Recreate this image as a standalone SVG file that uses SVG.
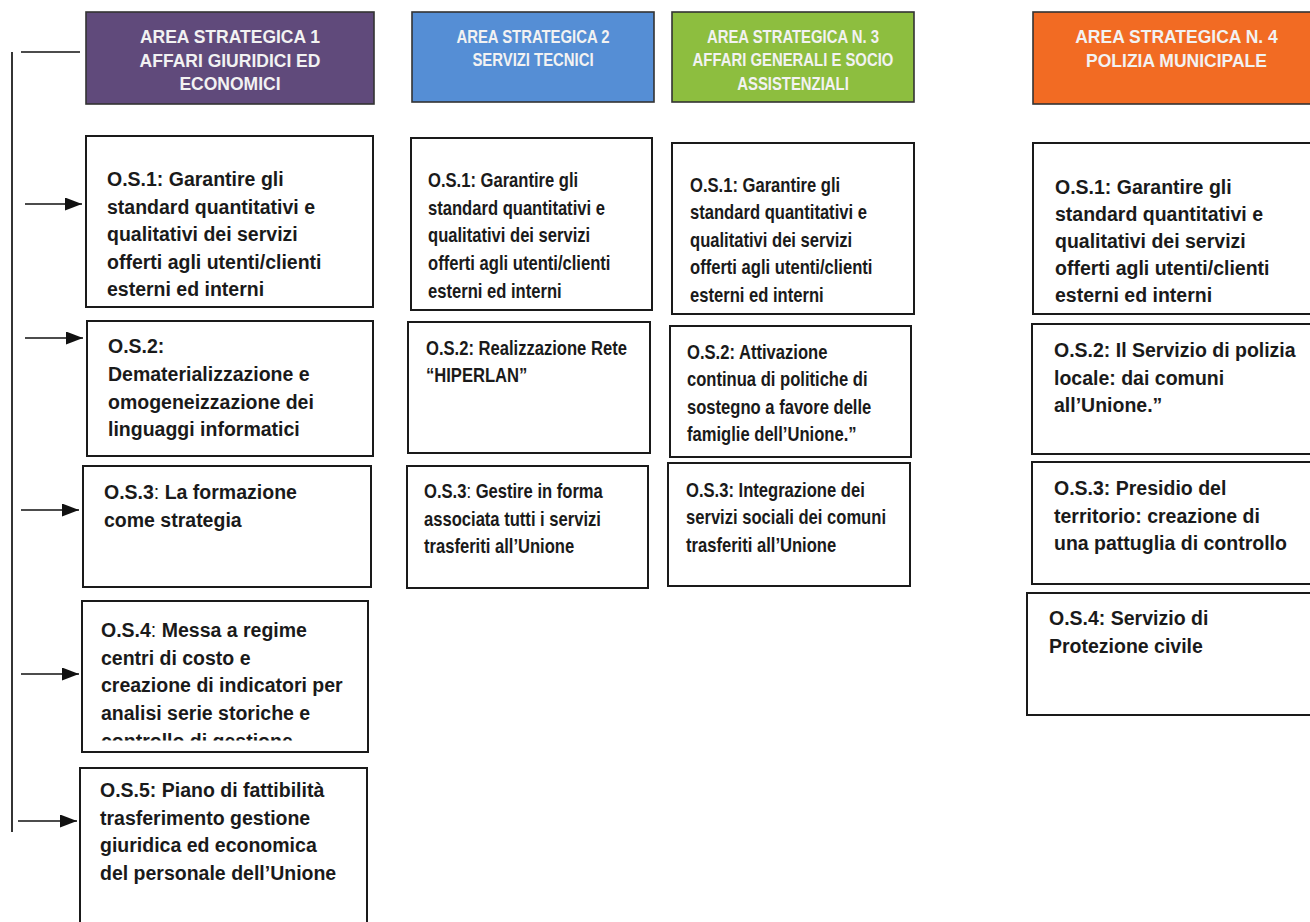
<svg xmlns="http://www.w3.org/2000/svg" width="1310" height="922" viewBox="0 0 1310 922">
<style>
.bg{fill:#ffffff}
.os{fill:#ffffff;stroke:#1a1a1a;stroke-width:2}
.hd{stroke:#333333;stroke-width:1.6}
.t{font-family:"Liberation Sans",Arial,sans-serif;font-weight:bold;font-size:19.5px;fill:#1a1a1a}
.h{font-family:"Liberation Sans",Arial,sans-serif;font-weight:bold;font-size:17.5px;fill:#f2f2f2;text-anchor:middle}
.n{font-weight:normal}
.c{fill:none;stroke:#111111;stroke-width:1.7}
</style>
<defs>
<marker id="arr" markerUnits="userSpaceOnUse" markerWidth="17" markerHeight="13" viewBox="0 0 17 13" refX="17" refY="6.5" orient="auto">
<path d="M0,0 L17,6.5 L0,13 Z" fill="#111111"/>
</marker>
<clipPath id="clip4"><rect x="82" y="601" width="286" height="139.5"/></clipPath>
</defs>
<rect class="bg" x="0" y="0" width="1310" height="922"/>

<g id="connectors">
<line class="c" x1="12" y1="52" x2="12" y2="832"/>
<line class="c" x1="21" y1="52" x2="80" y2="52"/>
<line class="c" x1="25" y1="204" x2="82" y2="204" marker-end="url(#arr)"/>
<line class="c" x1="25" y1="338" x2="83" y2="338" marker-end="url(#arr)"/>
<line class="c" x1="21" y1="510" x2="79" y2="510" marker-end="url(#arr)"/>
<line class="c" x1="21" y1="674" x2="79" y2="674" marker-end="url(#arr)"/>
<line class="c" x1="18" y1="821" x2="77" y2="821" marker-end="url(#arr)"/>
</g>

<!-- Column 1 -->
<g id="area1">
<rect class="hd" x="86" y="12" width="288" height="92" fill="#604a7b"/>
<text class="h" x="230" y="43">AREA STRATEGICA 1</text>
<text class="h" x="230" y="66.5">AFFARI GIURIDICI ED</text>
<text class="h" x="230" y="90">ECONOMICI</text>
</g>
<g id="a1-os1">
<rect class="os" x="86" y="136" width="287" height="171"/>
<text class="t" x="107" y="186">O.S.1: Garantire gli</text>
<text class="t" x="107" y="213.5">standard quantitativi e</text>
<text class="t" x="107" y="241">qualitativi dei servizi</text>
<text class="t" x="107" y="268.5">offerti agli utenti/clienti</text>
<text class="t" x="107" y="296">esterni ed interni</text>
</g>
<g id="a1-os2">
<rect class="os" x="87" y="321" width="286" height="135"/>
<text class="t" x="108" y="353">O.S.2:</text>
<text class="t" x="108" y="381">Dematerializzazione e</text>
<text class="t" x="108" y="408.5">omogeneizzazione dei</text>
<text class="t" x="108" y="436">linguaggi informatici</text>
</g>
<g id="a1-os3">
<rect class="os" x="83" y="466" width="288" height="121"/>
<text class="t" x="104" y="499">O.S.3<tspan class="n">:</tspan> La formazione</text>
<text class="t" x="104" y="527">come strategia</text>
</g>
<g id="a1-os4">
<rect class="os" x="82" y="601" width="286" height="151"/>
<g clip-path="url(#clip4)">
<text class="t" x="101" y="637">O.S.4<tspan class="n">:</tspan> Messa a regime</text>
<text class="t" x="101" y="664.7">centri di costo e</text>
<text class="t" x="101" y="692.4">creazione di indicatori per</text>
<text class="t" x="101" y="720">analisi serie storiche e</text>
<text class="t" x="101" y="747.8">controllo di gestione</text>
</g>
</g>
<g id="a1-os5">
<rect class="os" x="80" y="768" width="287" height="160"/>
<text class="t" x="100" y="797">O.S.5: Piano di fattibilità</text>
<text class="t" x="100" y="824.6">trasferimento gestione</text>
<text class="t" x="100" y="852.2">giuridica ed economica</text>
<text class="t" x="100" y="879.8">del personale dell’Unione</text>
</g>

<!-- Column 2 -->
<g id="area2">
<rect class="hd" x="412" y="12" width="242" height="90" fill="#558ed5"/>
<g transform="translate(533,0) scale(0.85,1)">
<text class="h" x="0" y="43">AREA STRATEGICA 2</text>
<text class="h" x="0" y="66.5">SERVIZI TECNICI</text>
</g>
</g>
<g id="a2-os1">
<rect class="os" x="411" y="138" width="241" height="172"/>
<g transform="translate(428,0) scale(0.83,1)">
<text class="t" x="0" y="187" style="font-size:20px">O.S.1: Garantire gli</text>
<text class="t" x="0" y="214.7" style="font-size:20px">standard quantitativi e</text>
<text class="t" x="0" y="242.3" style="font-size:20px">qualitativi dei servizi</text>
<text class="t" x="0" y="270" style="font-size:20px">offerti agli utenti/clienti</text>
<text class="t" x="0" y="297.7" style="font-size:20px">esterni ed interni</text>
</g>
</g>
<g id="a2-os2">
<rect class="os" x="408" y="322" width="242" height="131"/>
<g transform="translate(426,0) scale(0.83,1)">
<text class="t" x="0" y="355" style="font-size:20px">O.S.2: Realizzazione Rete</text>
<text class="t" x="0" y="382" style="font-size:20px">“HIPERLAN”</text>
</g>
</g>
<g id="a2-os3">
<rect class="os" x="407" y="466" width="241" height="122"/>
<g transform="translate(424,0) scale(0.83,1)">
<text class="t" x="0" y="498" style="font-size:20px">O.S.3<tspan class="n">:</tspan> Gestire in forma</text>
<text class="t" x="0" y="525.8" style="font-size:20px">associata tutti i servizi</text>
<text class="t" x="0" y="553.5" style="font-size:20px">trasferiti all’Unione</text>
</g>
</g>

<!-- Column 3 -->
<g id="area3">
<rect class="hd" x="672" y="12" width="242" height="90" fill="#8dbe3f"/>
<g transform="translate(793,0) scale(0.85,1)">
<text class="h" x="0" y="43">AREA STRATEGICA N. 3</text>
<text class="h" x="0" y="66.5">AFFARI GENERALI E SOCIO</text>
<text class="h" x="0" y="90">ASSISTENZIALI</text>
</g>
</g>
<g id="a3-os1">
<rect class="os" x="672" y="143" width="242" height="171"/>
<g transform="translate(690,0) scale(0.83,1)">
<text class="t" x="0" y="192" style="font-size:20px">O.S.1: Garantire gli</text>
<text class="t" x="0" y="219.4" style="font-size:20px">standard quantitativi e</text>
<text class="t" x="0" y="246.9" style="font-size:20px">qualitativi dei servizi</text>
<text class="t" x="0" y="274.3" style="font-size:20px">offerti agli utenti/clienti</text>
<text class="t" x="0" y="301.7" style="font-size:20px">esterni ed interni</text>
</g>
</g>
<g id="a3-os2">
<rect class="os" x="670" y="326" width="241" height="131"/>
<g transform="translate(687,0) scale(0.83,1)">
<text class="t" x="0" y="359" style="font-size:20px">O.S.2: Attivazione</text>
<text class="t" x="0" y="386.3" style="font-size:20px">continua di politiche di</text>
<text class="t" x="0" y="413.6" style="font-size:20px">sostegno a favore delle</text>
<text class="t" x="0" y="441" style="font-size:20px">famiglie dell’Unione.”</text>
</g>
</g>
<g id="a3-os3">
<rect class="os" x="668" y="463" width="242" height="123"/>
<g transform="translate(686,0) scale(0.83,1)">
<text class="t" x="0" y="497" style="font-size:20px">O.S.3: Integrazione dei</text>
<text class="t" x="0" y="524.5" style="font-size:20px">servizi sociali dei comuni</text>
<text class="t" x="0" y="552" style="font-size:20px">trasferiti all’Unione</text>
</g>
</g>

<!-- Column 4 -->
<g id="area4">
<rect class="hd" x="1033" y="12" width="290" height="92" fill="#f26b23"/>
<text class="h" x="1176.5" y="43">AREA STRATEGICA N. 4</text>
<text class="h" x="1176.5" y="66.5">POLIZIA MUNICIPALE</text>
</g>
<g id="a4-os1">
<rect class="os" x="1033" y="143" width="290" height="171"/>
<text class="t" x="1055" y="193.5">O.S.1: Garantire gli</text>
<text class="t" x="1055" y="220.5">standard quantitativi e</text>
<text class="t" x="1055" y="247.5">qualitativi dei servizi</text>
<text class="t" x="1055" y="274.5">offerti agli utenti/clienti</text>
<text class="t" x="1055" y="301.5">esterni ed interni</text>
</g>
<g id="a4-os2">
<rect class="os" x="1032" y="324" width="290" height="130"/>
<text class="t" x="1054" y="357">O.S.2: Il Servizio di polizia</text>
<text class="t" x="1054" y="384.5">locale: dai comuni</text>
<text class="t" x="1054" y="412">all’Unione.”</text>
</g>
<g id="a4-os3">
<rect class="os" x="1032" y="462" width="290" height="122"/>
<text class="t" x="1054" y="495">O.S.3: Presidio del</text>
<text class="t" x="1054" y="522.5">territorio: creazione di</text>
<text class="t" x="1054" y="550">una pattuglia di controllo</text>
</g>
<g id="a4-os4">
<rect class="os" x="1027" y="593" width="295" height="122"/>
<text class="t" x="1049" y="625">O.S.4: Servizio di</text>
<text class="t" x="1049" y="652.5">Protezione civile</text>
</g>
</svg>
